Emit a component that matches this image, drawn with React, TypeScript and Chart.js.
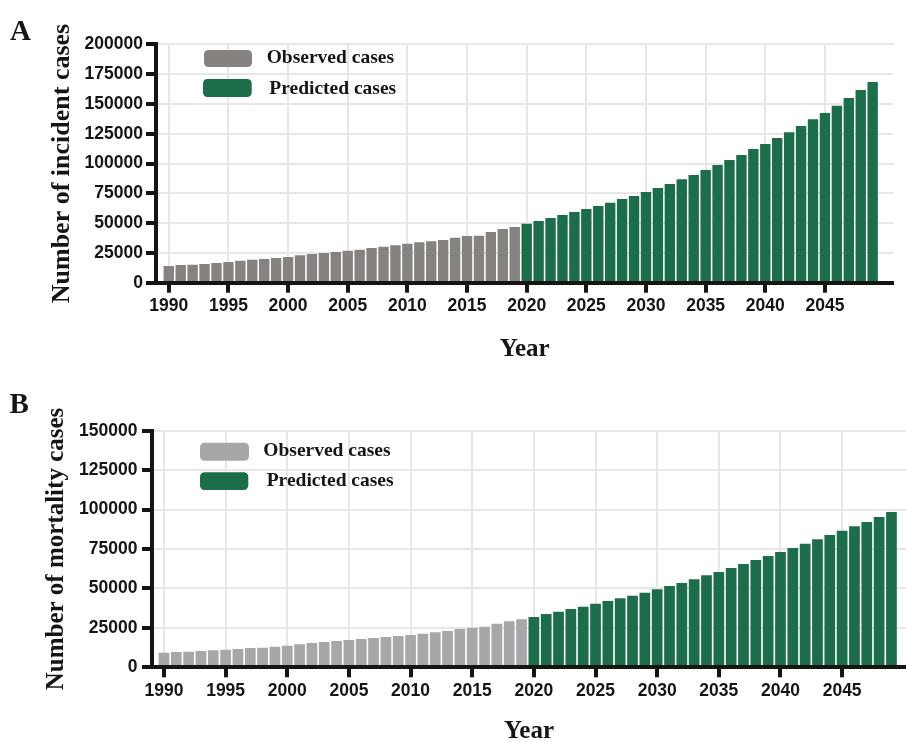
import React, { useEffect, useRef } from 'react';
import { Chart, registerables } from 'chart.js';

Chart.register(...registerables);

// ---------------- data ----------------
const observedYears = [
  1990, 1991, 1992, 1993, 1994, 1995, 1996, 1997, 1998, 1999,
  2000, 2001, 2002, 2003, 2004, 2005, 2006, 2007, 2008, 2009,
  2010, 2011, 2012, 2013, 2014, 2015, 2016, 2017, 2018, 2019,
];
const predictedYears = [
  2020, 2021, 2022, 2023, 2024, 2025, 2026, 2027, 2028, 2029,
  2030, 2031, 2032, 2033, 2034, 2035, 2036, 2037, 2038, 2039,
  2040, 2041, 2042, 2043, 2044, 2045, 2046, 2047, 2048, 2049,
];
const yearTicks = [1990, 1995, 2000, 2005, 2010, 2015, 2020, 2025, 2030, 2035, 2040, 2045];

const seriesLabels = ['Observed cases', 'Predicted cases'];

const incidentObserved = [
  14000, 14850, 15100, 15700, 16500, 17350, 18450, 19300, 19900, 20700,
  21550, 22950, 24100, 24900, 25750, 26850, 27700, 29100, 30200, 31350,
  32700, 33850, 34700, 35800, 37750, 39150, 39450, 42500, 45050, 46700,
];
const incidentPredicted = [
  49500, 51750, 54250, 56800, 59300, 61800, 64350, 67100, 70200, 72700,
  76100, 79450, 82800, 86700, 90350, 94550, 98700, 102950, 107100, 112150,
  116350, 121400, 126150, 131450, 137050, 142350, 148500, 154950, 161650, 168350,
];
const mortalityObserved = [
  9250, 9700, 9900, 10350, 10750, 11200, 11600, 12250, 12450, 13100,
  13700, 14600, 15400, 16050, 16700, 17300, 17950, 18600, 19200, 19850,
  20500, 21300, 22200, 23000, 24300, 25100, 25750, 27650, 29150, 30450,
];
const mortalityPredicted = [
  31900, 33800, 35250, 36950, 38400, 40300, 42050, 43750, 45400, 47300,
  49450, 51550, 53450, 55800, 58300, 60400, 62950, 65500, 68000, 70550,
  73100, 75650, 78350, 81150, 83900, 86600, 89400, 92100, 95300, 98450,
];

const incidentAxis = { max: 200000, step: 25000, title: 'Number of incident cases' };
const mortalityAxis = { max: 150000, step: 25000, title: 'Number of mortality cases' };

// ---------------- styles ----------------
const SANS = '"Liberation Sans", Arial, sans-serif';
const SERIF = '"Liberation Serif", "Times New Roman", serif';
const INK = '#151515';
const GREEN = '#1c6e4a';
const GRID = '#e7e7e7';

const decoPlugin = {
  id: 'deco',
  afterDraw(chart: any, _args: any, opts: any) {
    const ctx = chart.ctx;
    const ca = chart.chartArea;
    ctx.save();
    ctx.fillStyle = INK;
    ctx.textAlign = 'left';
    ctx.textBaseline = 'alphabetic';
    ctx.font = `bold 29px ${SERIF}`;
    ctx.fillText(opts.letter, opts.letterX, opts.letterY);
    ctx.font = `bold 19.5px ${SERIF}`;
    ctx.textBaseline = 'middle';
    chart.data.datasets.forEach((ds: any, i: number) => {
      const it = opts.items[i];
      ctx.fillStyle = ds.backgroundColor;
      ctx.beginPath();
      ctx.roundRect(ca.left + it.rx, ca.top + it.ry, it.rw, it.rh, 4.5);
      ctx.fill();
      ctx.fillStyle = INK;
      ctx.fillText(ds.label, ca.left + it.tx, ca.top + it.ty);
    });
    ctx.restore();
  },
};

function makeConfig(p: any) {
  const obsData = observedYears.map((x, i) => ({ x, y: p.observed[i] }));
  const preData = predictedYears.map((x, i) => ({ x, y: p.predicted[i] }));
  return {
    type: 'bar',
    data: {
      datasets: [
        {
          label: seriesLabels[0],
          data: obsData,
          backgroundColor: p.gray,
          barPercentage: 0.87,
          categoryPercentage: 1,
          grouped: false,
        },
        {
          label: seriesLabels[1],
          data: preData,
          backgroundColor: GREEN,
          barPercentage: 0.87,
          categoryPercentage: 1,
          grouped: false,
        },
      ],
    },
    options: {
      responsive: false,
      maintainAspectRatio: false,
      devicePixelRatio: 1,
      animation: false,
      layout: { padding: { left: 0, top: p.padTop, right: p.padRight, bottom: 0 } },
      plugins: {
        legend: { display: false },
        tooltip: { enabled: false },
        deco: p.deco,
      },
      scales: {
        x: {
          type: 'linear',
          min: p.xMin,
          max: p.xMax,
          offset: false,
          grid: {
            offset: false,
            color: GRID,
            lineWidth: 2,
            tickColor: INK,
            tickWidth: 4,
            tickLength: 10,
          },
          border: { color: INK, width: 4, z: 1 },
          afterBuildTicks: (s: any) => {
            s.ticks = yearTicks.map((v) => ({ value: v }));
          },
          ticks: {
            callback: (v: any) => String(v),
            font: { family: SANS, size: 17.5, weight: 'bold' },
            color: INK,
            padding: 3,
            maxRotation: 0,
            autoSkip: false,
          },
          title: {
            display: true,
            text: 'Year',
            color: INK,
            font: { family: SERIF, size: 25, weight: 'bold', lineHeight: 1.2 },
            padding: { top: 0, bottom: p.xTitlePad },
          },
          afterFit: (s: any) => {
            s.height = p.xHeight;
          },
        },
        y: {
          type: 'linear',
          min: 0,
          max: p.axis.max,
          grid: {
            color: GRID,
            lineWidth: 2,
            tickColor: INK,
            tickWidth: 4,
            tickLength: 10,
          },
          border: { color: INK, width: 4, z: 1 },
          ticks: {
            stepSize: p.axis.step,
            callback: (v: any) => String(v),
            font: { family: SANS, size: 17.5, weight: 'bold' },
            color: INK,
            padding: p.yTickPad,
          },
          title: {
            display: true,
            text: p.axis.title,
            color: INK,
            font: { family: SERIF, size: p.yTitleSize, weight: 'bold', lineHeight: 1.2 },
            padding: { top: p.yTitlePad, bottom: 0 },
          },
          afterFit: (s: any) => {
            s.width = p.yWidth;
          },
        },
      },
    },
    plugins: [decoPlugin],
  };
}

const panelA = {
  observed: incidentObserved,
  predicted: incidentPredicted,
  gray: '#86827f',
  axis: incidentAxis,
  xMin: 1988.93,
  xMax: 2050.73,
  padTop: 44.3,
  padRight: 12.7,
  yWidth: 156,
  xHeight: 97.3,
  xTitlePad: 15,
  yTickPad: 3,
  yTitleSize: 26,
  yTitlePad: 46.6,
  deco: {
    letter: 'A',
    letterX: 10,
    letterY: 39.5,
    items: [
      { rx: 48, ry: 5.7, rw: 48, rh: 17, tx: 110.7, ty: 13.4 },
      { rx: 47, ry: 34.7, rw: 48.7, rh: 18, tx: 113.3, ty: 45 },
    ],
  },
};

const panelB = {
  observed: mortalityObserved,
  predicted: mortalityPredicted,
  gray: '#a8a6a9',
  axis: mortalityAxis,
  xMin: 1989.03,
  xMax: 2050.18,
  padTop: 50.7,
  padRight: 0,
  yWidth: 152,
  xHeight: 84.7,
  xTitlePad: 5.4,
  yTickPad: 4.5,
  yTitleSize: 25,
  yTitlePad: 41.9,
  deco: {
    letter: 'B',
    letterX: 9.5,
    letterY: 32.5,
    items: [
      { rx: 48, ry: 12, rw: 49, rh: 18, tx: 111.3, ty: 20 },
      { rx: 48, ry: 41.6, rw: 48.3, rh: 17.7, tx: 114.7, ty: 50.3 },
    ],
  },
};

function Panel({ top, height, cfg }: { top: number; height: number; cfg: any }) {
  const ref = useRef<HTMLCanvasElement | null>(null);
  useEffect(() => {
    if (!ref.current) return;
    const chart = new Chart(ref.current, makeConfig(cfg) as any);
    return () => chart.destroy();
  }, [cfg]);
  return (
    <canvas
      ref={ref}
      width={906}
      height={height}
      style={{ position: 'absolute', left: 0, top, width: 906, height, display: 'block' }}
    />
  );
}

export default function App() {
  return (
    <div
      style={{
        position: 'fixed',
        left: 0,
        top: 0,
        width: 906,
        height: 742,
        overflow: 'hidden',
        background: '#ffffff',
      }}
    >
      <Panel top={0} height={380} cfg={panelA} />
      <Panel top={380} height={372} cfg={panelB} />
    </div>
  );
}
